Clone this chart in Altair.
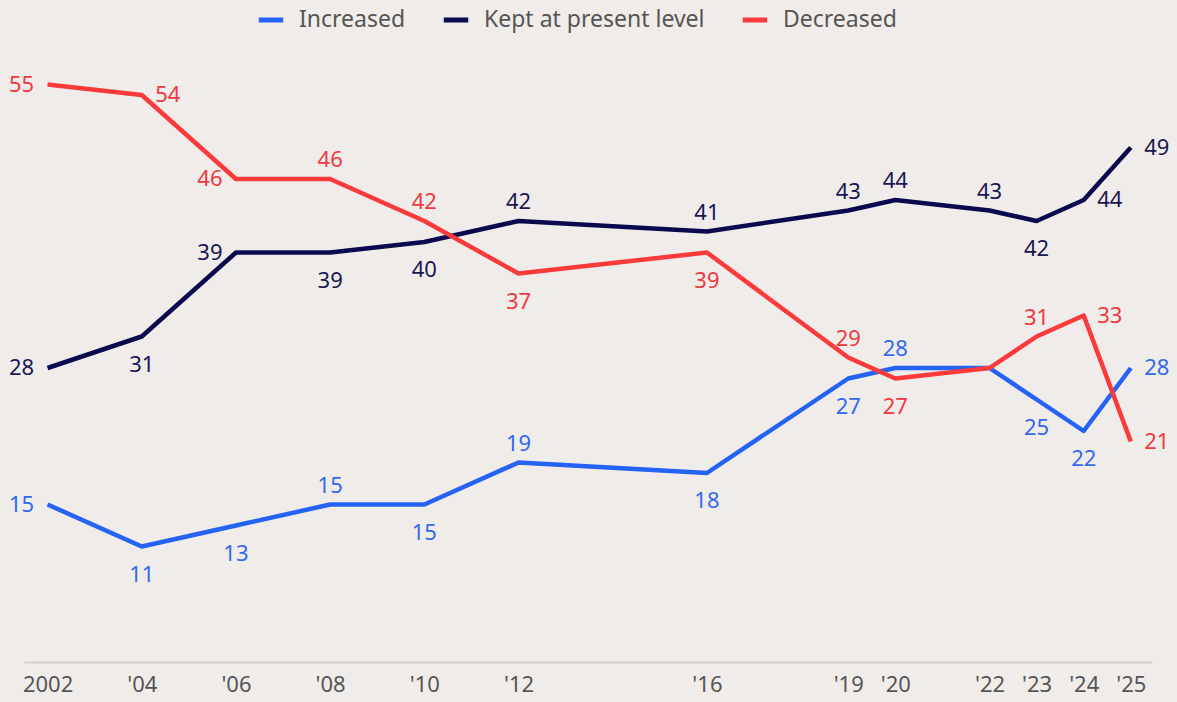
import altair as alt
import pandas as pd

years = [2002, 2004, 2006, 2008, 2010, 2012, 2016, 2019, 2020, 2022, 2023, 2024, 2025]
tick_labels = ["2002", "'04", "'06", "'08", "'10", "'12", "'16", "'19", "'20", "'22", "'23", "'24", "'25"]
series_names = ["Increased", "Kept at present level", "Decreased"]
increased = [15, 11, 13, 15, 15, 19, 18, 27, 28, 28, 25, 22, 28]
kept = [28, 31, 39, 39, 40, 42, 41, 43, 44, 43, 42, 44, 49]
decreased = [55, 54, 46, 46, 42, 37, 39, 29, 27, 28, 31, 33, 21]
# label placement: L left, R right, A above, B below, N none
inc_place = ["L", "B", "B", "A", "B", "A", "B", "B", "A", "N", "B", "B", "R"]
kept_place = ["L", "B", "L", "B", "B", "A", "A", "A", "A", "A", "B", "R", "R"]
dec_place = ["L", "R", "L", "A", "A", "B", "B", "A", "B", "N", "A", "R", "R"]
colors = ["#2563f4", "#0c0a4e", "#fb3a3c"]
label_colors = ["#3169f0", "#1a1752", "#ee3a40"]

rows = []
for name, vals, places in zip(series_names, [increased, kept, decreased], [inc_place, kept_place, dec_place]):
    for y, v, p in zip(years, vals, places):
        rows.append({"series": name, "year": y, "value": v, "place": p})
df = pd.DataFrame(rows)

label_expr = ""
for y, t in zip(years, tick_labels):
    label_expr += f"datum.value == {y} ? \"{t}\" : "
label_expr += "''"

FONT = "Noto Sans"

x = alt.X("year:Q", scale=alt.Scale(domain=[2001.5, 2025.45], nice=False, zero=False),
          axis=alt.Axis(values=years, labelExpr=label_expr, ticks=False, grid=False,
                        domainColor="#d2d0ce", domainWidth=2, labelFontSize=22,
                        labelColor="#555555", labelPadding=12, labelFont=FONT,
                        labelFlush=False, labelOverlap=False, title=None))
y = alt.Y("value:Q", scale=alt.Scale(domain=[0, 60], nice=False), axis=None)
color = alt.Color("series:N", scale=alt.Scale(domain=series_names, range=colors),
                  legend=alt.Legend(orient="none", legendX=232, legendY=-27, direction="horizontal",
                                    title=None, symbolType="stroke", symbolStrokeWidth=5,
                                    symbolSize=600, labelFontSize=23, labelColor="#555555",
                                    labelFont=FONT, columnPadding=27, labelOffset=13, labelLimit=0))

base = alt.Chart(df)
lines = base.mark_line(strokeWidth=4.5, strokeJoin="round").encode(
    x=x, y=y, color=color, detail="series:N", order="year:Q")

offsets = {"L": (-26, 0), "R": (26, 0), "A": (0, -19), "B": (0, 28)}
layers = [lines]
for code, (dx, dy) in offsets.items():
    layers.append(
        base.transform_filter(alt.datum.place == code).mark_text(
            dx=dx, dy=dy, fontSize=22, font=FONT, baseline="middle", align="center"
        ).encode(x=x, y=y, text="value:Q",
                 color=alt.Color("series:N", scale=alt.Scale(domain=series_names, range=label_colors), legend=None))
    )

chart = alt.layer(*layers).resolve_scale(color="independent").properties(
    width=1128, height=630,
    padding={"left": 24, "top": 32, "right": 25, "bottom": 40},
    autosize=alt.AutoSizeParams(type="none"),
    background="#f0ecea",
).configure_view(stroke=None)

chart.save("out.html", embed_options={"renderer": "svg", "actions": False})
